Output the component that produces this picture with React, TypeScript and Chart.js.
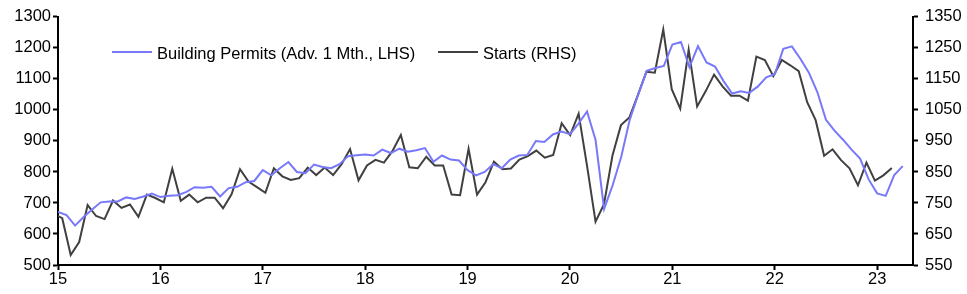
import React, { useEffect, useRef } from "react";
import { Chart, registerables } from "chart.js";

Chart.register(...registerables);

// Year tick labels (one every 12 months, starting Jan 2015)
const yearTickLabels = ["15", "16", "17", "18", "19", "20", "21", "22", "23"];

// Building permits (advanced 1 month), LHS – monthly from Jan 2015 to Apr 2023
const permits = [
  671, 661, 627, 655, 679, 702, 705, 705, 718, 713, 721, 730,
  719, 723, 725, 735, 751, 749, 752, 721, 748, 752, 767, 771,
  806, 789, 812, 832, 800, 796, 824, 816, 812, 825, 851, 854,
  856, 853, 872, 861, 875, 865, 870, 877, 833, 853, 840, 837,
  806, 789, 800, 825, 812, 840, 853, 855, 900, 897, 921, 930,
  922, 956, 995, 903, 681, 757, 848, 968, 1050, 1126, 1135, 1142,
  1211, 1219, 1138, 1206, 1153, 1140, 1093, 1053, 1060, 1055, 1075, 1105,
  1115, 1197, 1205, 1165, 1120, 1057, 968, 933, 904, 872, 843, 776,
  731, 723, 790, 819,
];

// Starts, RHS – monthly from Dec 2014 to Mar 2023
const starts = [
  715,
  701, 582, 624, 743, 708, 698, 758, 734, 745, 705, 777, 766,
  752, 860, 757, 777, 752, 767, 767, 733, 778, 859, 819, 801,
  783, 862, 836, 824, 830, 864, 840, 864, 840, 875, 924, 823,
  871, 889, 880, 917, 969, 865, 862, 899, 871, 871, 777, 775,
  925, 777, 817, 883, 859, 861, 890, 901, 919, 896, 905, 1007,
  969, 1038, 869, 690, 746, 903, 1001, 1026, 1098, 1173, 1170, 1309,
  1117, 1054, 1244, 1061, 1110, 1164, 1126, 1096, 1096, 1080, 1222, 1211,
  1159, 1211, 1194, 1175, 1075, 1017, 902, 923, 888, 862, 807, 880,
  822, 839, 863,
];

// Month indices (0 = Jan 2015)
const permitMonths = permits.map((_, i) => i);
const startMonths = starts.map((_, i) => i - 1);

const FONT = '"Liberation Sans", Arial, sans-serif';
const BLUE = "#7878fa";
const DARK = "#404040";

export default function App() {
  const ref = useRef<HTMLCanvasElement | null>(null);

  useEffect(() => {
    const canvas = ref.current;
    if (!canvas) return;
    const tickFont = { family: FONT, size: 16.5 };
    const plain = (v: any) => String(v);
    const chart = new Chart(canvas, {
      type: "line",
      data: {
        datasets: [
          {
            label: "Building Permits (Adv. 1 Mth., LHS)",
            data: permitMonths.map((m, i) => ({ x: m, y: permits[i] })),
            borderColor: BLUE,
            borderWidth: 2,
            pointRadius: 0,
            tension: 0,
            xAxisID: "x",
            yAxisID: "y",
          },
          {
            label: "Starts (RHS)",
            data: startMonths.map((m, i) => ({ x: m, y: starts[i] })),
            borderColor: DARK,
            borderWidth: 2,
            pointRadius: 0,
            tension: 0,
            xAxisID: "x2",
            yAxisID: "y2",
          },
        ],
      },
      options: {
        animation: false,
        responsive: false,
        devicePixelRatio: 1,
        layout: { padding: { top: 11, left: 0, right: 0, bottom: 0 } },
        plugins: {
          legend: { display: false },
          tooltip: { enabled: false },
        },
        scales: {
          x: {
            type: "linear",
            position: "bottom",
            min: 0,
            max: 100.2,
            afterBuildTicks: (s: any) => {
              s.ticks = yearTickLabels.map((_, k) => ({ value: k * 12 }));
            },
            afterFit: (s: any) => {
              s.height = 29;
            },
            ticks: {
              autoSkip: false,
              maxRotation: 0,
              padding: 0,
              color: "#000",
              font: tickFont,
              callback: (v: any) => yearTickLabels[Math.round(Number(v) / 12)],
            },
            grid: {
              display: true,
              drawOnChartArea: false,
              drawTicks: true,
              tickLength: 5,
              tickWidth: 2,
              tickColor: "#000",
            },
            border: { display: true, color: "#000", width: 2 },
          },
          x2: {
            type: "linear",
            position: "bottom",
            min: -0.5,
            max: 100.5,
            display: false,
          },
          y: {
            position: "left",
            min: 500,
            max: 1300,
            afterFit: (s: any) => {
              s.width = 58;
            },
            ticks: { stepSize: 100, padding: 2, color: "#000", font: tickFont, callback: plain },
            grid: {
              display: true,
              drawOnChartArea: false,
              tickLength: 5,
              tickWidth: 2,
              tickColor: "#000",
            },
            border: { display: true, color: "#000", width: 2 },
          },
          y2: {
            position: "right",
            min: 550,
            max: 1350,
            afterFit: (s: any) => {
              s.width = 54;
            },
            ticks: { stepSize: 100, padding: 7, color: "#000", font: tickFont, callback: plain },
            grid: {
              display: true,
              drawOnChartArea: false,
              tickLength: 5,
              tickWidth: 2,
              tickColor: "#000",
            },
            border: { display: true, color: "#000", width: 2 },
          },
        },
      },
    });
    return () => chart.destroy();
  }, []);

  const legendText: React.CSSProperties = {
    position: "absolute",
    top: 44.5,
    fontFamily: FONT,
    fontSize: 16.5,
    lineHeight: "16.5px",
    color: "#000",
    whiteSpace: "nowrap",
  };
  const sample: React.CSSProperties = {
    position: "absolute",
    top: 51,
    width: 40,
    height: 2,
  };

  return (
    <div
      style={{
        position: "fixed",
        left: 0,
        top: 0,
        width: 967,
        height: 294,
        background: "#fff",
      }}
    >
      <canvas ref={ref} width={967} height={294} style={{ display: "block", width: 967, height: 294 }} />
      <div style={{ ...sample, left: 112, background: BLUE }} />
      <div style={{ ...legendText, left: 157 }}>Building Permits (Adv. 1 Mth., LHS)</div>
      <div style={{ ...sample, left: 438, background: DARK }} />
      <div style={{ ...legendText, left: 483 }}>Starts (RHS)</div>
    </div>
  );
}
